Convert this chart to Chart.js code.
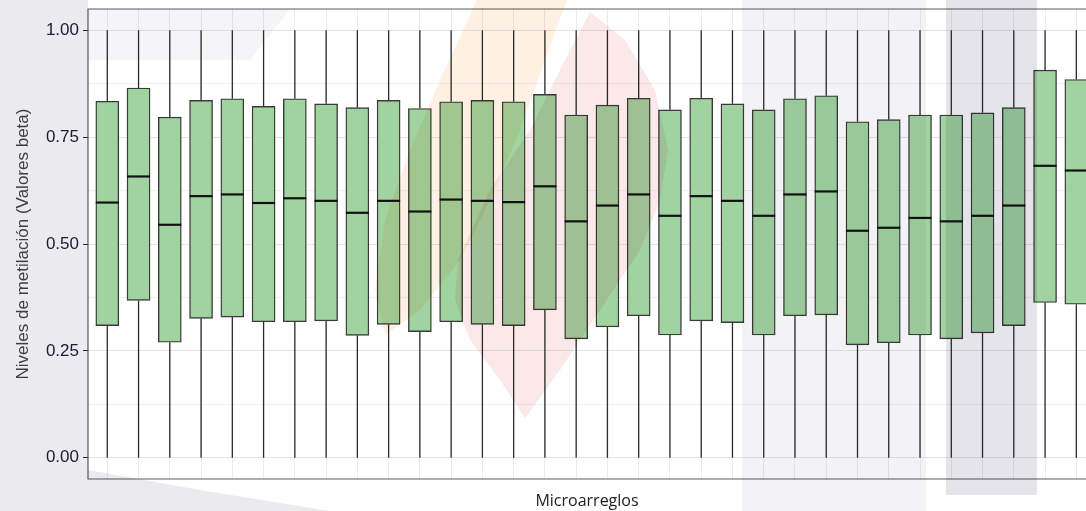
<!DOCTYPE html>
<html>
<head>
<meta charset="utf-8">
<script src="https://cdn.jsdelivr.net/npm/chart.js@4"></script>
<style>
  html, body { margin: 0; padding: 0; background: #fff; overflow: hidden; }
  canvas { display: block; }
</style>
</head>
<body>
<canvas id="chart" width="1086" height="511"></canvas>
<script>
// one box per microarray, positions 1..32
const arrays = Array.from({ length: 32 }, (_, i) => `M${i + 1}`);

const q3Values = [0.834, 0.865, 0.797, 0.836, 0.840, 0.822, 0.840, 0.828, 0.819, 0.836,
                  0.817, 0.833, 0.836, 0.833, 0.850, 0.802, 0.825, 0.841, 0.814, 0.841,
                  0.828, 0.814, 0.840, 0.847, 0.786, 0.791, 0.802, 0.802, 0.807, 0.819,
                  0.907, 0.885];
const medianValues = [0.597, 0.658, 0.545, 0.612, 0.616, 0.596, 0.607, 0.601, 0.573, 0.601,
                      0.576, 0.604, 0.601, 0.598, 0.635, 0.553, 0.590, 0.616, 0.566, 0.612,
                      0.601, 0.566, 0.616, 0.623, 0.531, 0.538, 0.561, 0.553, 0.566, 0.590,
                      0.683, 0.672];
const q1Values = [0.309, 0.368, 0.270, 0.326, 0.329, 0.318, 0.318, 0.320, 0.286, 0.312,
                  0.295, 0.318, 0.312, 0.309, 0.346, 0.278, 0.306, 0.332, 0.287, 0.320,
                  0.316, 0.287, 0.332, 0.334, 0.264, 0.269, 0.287, 0.278, 0.292, 0.309,
                  0.363, 0.359];
const whiskerHigh = arrays.map(() => 1.0);
const whiskerLow = arrays.map(() => 0.0);

const yMajorTicks = [0, 0.25, 0.5, 0.75, 1];
const isMajor = (v) => yMajorTicks.some(m => Math.abs(m - v) < 1e-6);

// whiskers behind the boxes, medians on top
const boxExtras = {
    id: 'boxExtras',
    beforeDatasetsDraw(chart) {
        const { ctx, scales: { x, y } } = chart;
        ctx.save();
        ctx.strokeStyle = '#2b2b2b';
        ctx.lineWidth = 1.3;
        arrays.forEach((_, i) => {
            const px = x.getPixelForValue(i + 1);
            ctx.beginPath();
            ctx.moveTo(px, y.getPixelForValue(whiskerHigh[i]));
            ctx.lineTo(px, y.getPixelForValue(q3Values[i]));
            ctx.moveTo(px, y.getPixelForValue(q1Values[i]));
            ctx.lineTo(px, y.getPixelForValue(whiskerLow[i]));
            ctx.stroke();
        });
        ctx.restore();
    },
    afterDatasetsDraw(chart) {
        const { ctx, scales: { y } } = chart;
        const meta = chart.getDatasetMeta(0);
        ctx.save();
        ctx.strokeStyle = '#111';
        ctx.lineWidth = 2.2;
        meta.data.forEach((bar, i) => {
            const py = y.getPixelForValue(medianValues[i]);
            ctx.beginPath();
            ctx.moveTo(bar.x - bar.width / 2, py);
            ctx.lineTo(bar.x + bar.width / 2, py);
            ctx.stroke();
        });
        // panel border: left, top, bottom (right side is cut off)
        const a = chart.chartArea;
        ctx.strokeStyle = '#5c5c5c';
        ctx.lineWidth = 1.2;
        ctx.beginPath();
        ctx.moveTo(a.right, a.top);
        ctx.lineTo(a.left, a.top);
        ctx.lineTo(a.left, a.bottom);
        ctx.lineTo(a.right, a.bottom);
        ctx.stroke();
        ctx.restore();
    }
};

// faint watermark of the source document, multiplied over everything
const watermark = {
    id: 'watermark',
    afterDraw(chart) {
        const { ctx } = chart;
        const shapes = [
            { color: '#ebebef', pts: [[0, 0], [88, 0], [88, 470], [200, 490], [330, 511], [0, 511]] },
            { color: '#f5f5f8', pts: [[88, 9], [290, 9], [250, 60], [88, 60]] },
            { color: '#fef1e4', pts: [[477, 0], [567, 0], [545, 60], [520, 130], [490, 200], [460, 260], [420, 310], [385, 335], [375, 290], [385, 220], [410, 150], [440, 80]] },
            { color: '#fbe8e8', pts: [[590, 12], [625, 40], [655, 90], [668, 150], [660, 200], [640, 250], [600, 310], [560, 370], [525, 418], [500, 380], [470, 340], [455, 300], [458, 260], [490, 190], [530, 130], [565, 60]] },
            { color: '#f3f3f6', pts: [[742, 0], [926, 0], [926, 511], [742, 511]] },
            { color: '#e4e4ea', pts: [[946, 0], [1037, 0], [1037, 495], [946, 495]] }
        ];
        ctx.save();
        ctx.globalCompositeOperation = 'multiply';
        for (const s of shapes) {
            ctx.fillStyle = s.color;
            ctx.beginPath();
            s.pts.forEach(([px, py], k) => (k ? ctx.lineTo(px, py) : ctx.moveTo(px, py)));
            ctx.closePath();
            ctx.fill();
        }
        ctx.restore();
    }
};

new Chart(document.getElementById('chart').getContext('2d'), {
    type: 'bar',
    data: {
        labels: arrays,
        datasets: [{
            label: 'Valores beta',
            data: arrays.map((_, i) => ({ x: i + 1, y: [q1Values[i], q3Values[i]] })),
            backgroundColor: '#a1d3a1',
            borderColor: '#3a3a3a',
            borderWidth: 1.4,
            borderSkipped: false,
            barThickness: 23
        }]
    },
    options: {
        responsive: false,
        animation: false,
        layout: { padding: { top: 9, right: 0, left: 0, bottom: 0 } },
        plugins: {
            legend: { display: false },
            tooltip: { enabled: false }
        },
        scales: {
            x: {
                type: 'linear',
                offset: false,
                min: 0.383,
                max: 32.31,
                afterBuildTicks: (scale) => {
                    scale.ticks = arrays.map((_, i) => ({ value: i + 1 }));
                },
                afterFit: (scale) => {
                    scale.height = 32;
                    scale.paddingLeft = 0;
                    scale.paddingRight = 0;
                },
                ticks: { display: false },
                grid: { color: '#ebebeb', lineWidth: 1, drawTicks: false, offset: false },
                border: { display: false },
                title: {
                    display: true,
                    text: 'Microarreglos',
                    color: '#222',
                    font: { family: "'Open Sans', sans-serif", size: 16 },
                    padding: { top: 0, bottom: 0 }
                }
            },
            y: {
                min: -0.05,
                max: 1.05,
                afterBuildTicks: (scale) => {
                    const t = [];
                    for (let v = 0; v <= 1.0001; v += 0.125) t.push({ value: v });
                    scale.ticks = t;
                },
                afterFit: (scale) => {
                    scale.width = 88;
                    scale.paddingTop = 0;
                    scale.paddingBottom = 0;
                },
                ticks: {
                    color: '#20203a',
                    font: { family: "'Liberation Sans', Arial, sans-serif", size: 17 },
                    padding: 4,
                    callback: (v) => isMajor(v) ? v.toFixed(2) : ''
                },
                grid: {
                    color: (c) => isMajor(c.tick.value) ? '#e4e4e4' : '#f0f0f0',
                    tickColor: (c) => isMajor(c.tick.value) ? '#333' : 'rgba(0,0,0,0)',
                    tickLength: 5,
                    lineWidth: 1
                },
                border: { display: false },
                title: {
                    display: true,
                    text: 'Niveles de metilación (Valores beta)',
                    color: '#444',
                    font: { family: "'Liberation Sans', Arial, sans-serif", size: 17 },
                    padding: { top: 13, bottom: 0 }
                }
            }
        }
    },
    plugins: [boxExtras, watermark]
});
</script>
</body>
</html>
